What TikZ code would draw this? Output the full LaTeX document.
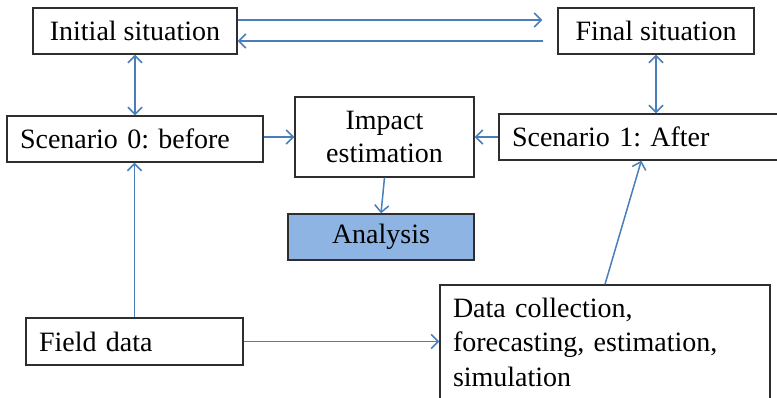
\documentclass[tikz,border=0pt]{standalone}
\usepackage{fontspec}
\setmainfont{Liberation Serif}
\usetikzlibrary{arrows.meta,calc}
\definecolor{linkblue}{HTML}{4A7EBB}
\definecolor{fillblue}{HTML}{8DB4E2}
\definecolor{edgegray}{HTML}{2E2E2E}
\tikzset{
  box/.style={draw=edgegray, line width=1.4pt, rectangle, inner sep=0pt,
    font=\fontsize{28}{34}\selectfont},
  leftbox/.style={box, align=left, text width=#1},
  tip/.tip={Straight Barb[length=7pt,width=14pt,line width=1.5pt]},
  link/.style={draw=linkblue, line width=1.5pt, -tip},
  duallink/.style={link, tip-tip}
}
\frenchspacing
\begin{document}
\begin{tikzpicture}[x=1pt,y=-1pt]
  \useasboundingbox (0,0) rectangle (777,397);
  \clip (0,0) rectangle (777,397);
  \fill[white] (0,0) rectangle (777,397);

  % boxes
  \node[box, minimum width=204pt, minimum height=46pt] (init) at (135,31) {Initial situation};
  \node[box, minimum width=196pt, minimum height=46pt] (final) at (656,31) {Final situation};
  \node[leftbox=230pt, minimum width=256pt, minimum height=46pt] (s0) at (135,139) {Scenario 0: before};
  \node[box, align=center, minimum width=179pt, minimum height=80pt,
        font=\fontsize{28}{33}\selectfont] (impact) at (384.5,137) {Impact\\estimation};
  \node[leftbox=275pt, minimum width=301pt, minimum height=46pt] (s1) at (649.5,137) {Scenario 1: After};
  \node[box, fill=fillblue, minimum width=186pt, minimum height=46pt] (analysis) at (381,237) {Analysis};
  \node[leftbox=191pt, minimum width=217pt, minimum height=47pt] (field) at (134.5,341.5) {Field data};
  \node[leftbox=304pt, minimum width=330pt, minimum height=114pt,
        font=\fontsize{28}{34.5}\selectfont] (data) at (605,342)
        {Data collection,\\forecasting, estimation,\\simulation};

  % connectors
  \draw[link] ($(init.east)+(0,-11)$) -- ($(final.west)+(-15,-11)$);
  \draw[link] ($(final.west)+(-14,10)$) -- ($(init.east)+(0,10)$);
  \draw[duallink] (init.south) -- (s0.north);
  \draw[duallink] (final.south) -- (final.south |- s1.north);
  \draw[link] (impact.west -| s0.east) -- (impact.west);
  \draw[link] (s1.west) -- (impact.east);
  \draw[link] (impact.south) -- (analysis.north);
  \draw[link] (field.north) -- (field.north |- s0.south);
  \draw[link] (field.east) -- (field.east -| data.west);
  \coordinate (s1in) at ($(s1.south west)+(143,0)$);
  \draw[link] (data.north) -- (s1in);
\end{tikzpicture}
\end{document}
